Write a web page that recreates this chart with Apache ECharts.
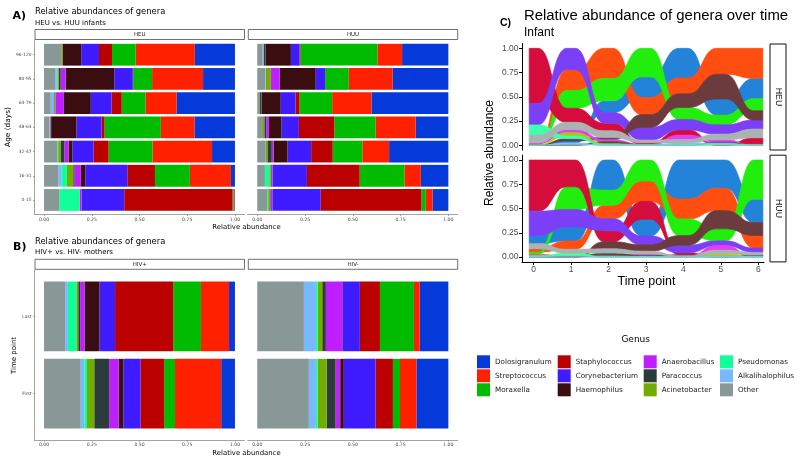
<!DOCTYPE html>
<html><head><meta charset="utf-8">
<script src="https://cdn.jsdelivr.net/npm/echarts@6/dist/echarts.min.js"></script>
<style>html,body{margin:0;padding:0;background:#fff}#c{width:800px;height:462px}</style>
</head><body><div id="c"></div>
<script>
// ---------- data ----------
const genera = ['Dolosigranulum','Streptococcus','Moraxella','Staphylococcus','Corynebacterium','Haemophilus','Anaerobacillus','Paracoccus','Acinetobacter','Pseudomonas','Alkalihalophilus','Other'];
const ageGroups = ['0-15','16-31','32-47','48-63','64-79','80-95','96-120'];
const timePoints = [0,1,2,3,4,5,6];
const motherTimes = ['First','Last'];
const xTicks = [0,0.25,0.5,0.75,1];
const yTicksC = [0,0.25,0.5,0.75,1];

// values in genera order
const HEU_0_15   = [0.003,0.005,0.005,0.567,0.223,0,0.010,0,0.002,0.105,0,0.080];
const HEU_16_31  = [0.021,0.215,0.183,0.145,0.220,0.023,0.033,0.007,0.033,0.028,0.017,0.075];
const HEU_32_47  = [0.120,0.312,0.230,0.079,0.110,0.021,0.021,0.021,0.012,0.004,0,0.070];
const HEU_48_63  = [0.212,0.176,0.295,0.016,0.131,0.133,0.003,0.002,0.002,0,0.002,0.028];
const HEU_64_79  = [0.305,0.164,0.124,0.054,0.108,0.141,0.045,0,0.007,0,0.017,0.035];
const HEU_80_95  = [0.167,0.267,0.099,0.002,0.097,0.255,0.026,0.010,0.007,0.003,0.009,0.058];
const HEU_96_120 = [0.210,0.310,0.124,0.068,0.093,0.096,0,0.003,0.006,0,0,0.090];

const HUU_0_15   = [0.082,0.036,0.023,0.527,0.253,0,0.010,0.002,0.010,0.005,0,0.052];
const HUU_16_31  = [0.144,0.086,0.234,0.276,0.180,0,0.005,0.005,0.007,0.023,0,0.040];
const HUU_32_47  = [0.310,0.140,0.155,0.113,0.124,0.073,0.009,0.023,0.009,0,0,0.044];
const HUU_48_63  = [0.171,0.210,0.216,0.185,0.091,0.066,0.014,0.010,0.007,0,0,0.030];
const HUU_64_79  = [0.402,0.206,0.171,0.021,0.077,0.100,0.001,0.010,0.002,0,0,0.010];
const HUU_80_95  = [0.291,0.230,0.124,0,0.049,0.188,0.047,0,0.026,0,0.003,0.042];
const HUU_96_120 = [0.242,0.129,0.403,0.005,0.045,0.133,0,0.010,0,0,0.005,0.028];

const HIVPOS_FIRST = [0.072,0.242,0.057,0.124,0.089,0.026,0.049,0.078,0.038,0.014,0.019,0.192];
const HIVPOS_LAST  = [0.031,0.147,0.145,0.305,0.082,0.078,0.023,0.010,0.010,0.044,0.014,0.111];
const HIVNEG_FIRST = [0.167,0.086,0.037,0.091,0.166,0.019,0.024,0.047,0.047,0.009,0.037,0.270];
const HIVNEG_LAST  = [0.150,0.030,0.178,0.105,0.089,0.003,0.086,0.019,0.024,0.009,0.063,0.244];

const heuRows = [HEU_0_15,HEU_16_31,HEU_32_47,HEU_48_63,HEU_64_79,HEU_80_95,HEU_96_120];
const huuRows = [HUU_0_15,HUU_16_31,HUU_32_47,HUU_48_63,HUU_64_79,HUU_80_95,HUU_96_120];
const hivPosRows = [HIVPOS_FIRST,HIVPOS_LAST];
const hivNegRows = [HIVNEG_FIRST,HIVNEG_LAST];

// ---------- styles ----------
const barColors  = ['#0539d9','#ff2000','#00bb00','#bb0000','#3f1cff','#3a0e10','#bf1fff','#2c3c3a','#73ac00','#11ff99','#77b8ff','#879896'];
const flowColors = ['#2283d9','#ff4e0f','#22ee0e','#d40d3c','#7b3ff7','#6b3b3d','#e23ef5','#45504f','#a8c80a','#3effad','#7fc3ff','#abb3b2'];
const FA = 'DejaVu Sans';
const FC = 'Liberation Sans';
const AX = '#8c8c8c';

const chart = echarts.init(document.getElementById('c'), null, {renderer:'canvas'});
const series = [];

function barRender(color){
  return function(params, api){
    const s = api.coord([api.value(0), api.value(2)]);
    const e = api.coord([api.value(1), api.value(2)]);
    const h = api.size([0, 0.9])[1];
    if (e[0] - s[0] <= 0) return null;
    return {type:'rect', shape:{x:s[0], y:s[1]-h/2, width:e[0]-s[0], height:h}, style:{fill:color}};
  };
}
function addBars(rows, gi){
  genera.forEach((g, gIdx) => {
    const data = rows.map((row, r) => {
      let start = 0;
      for (let k = gIdx + 1; k < row.length; k++) start += row[k];
      return [start, start + row[gIdx], r];
    });
    series.push({type:'custom', name:g, xAxisIndex:gi, yAxisIndex:gi, silent:true,
      itemStyle:{color:barColors[gIdx]}, dimensions:['start','end','row'], encode:{x:[0,1], y:2},
      data, renderItem:barRender(barColors[gIdx])});
  });
}

const W = 0.12;
function flowRender(color){
  return function(params, api){
    if (params.dataIndexInside !== 0) return null;
    const n = params.dataInsideLength;
    const tops = [], bots = [];
    for (let i = 0; i < n; i++){
      const t = api.value(0, i), b = api.value(1, i), tp = api.value(2, i);
      tops.push([api.coord([t - W, tp]), api.coord([t + W, tp])]);
      bots.push([api.coord([t - W, b]), api.coord([t + W, b])]);
    }
    const pts = [];
    function seg(p0, p3){
      const dx = (p3[0] - p0[0]) / 2;
      const p1 = [p0[0] + dx, p0[1]], p2 = [p3[0] - dx, p3[1]];
      for (let k = 1; k <= 20; k++){
        const u = k / 20, m = 1 - u;
        pts.push([
          m*m*m*p0[0] + 3*m*m*u*p1[0] + 3*m*u*u*p2[0] + u*u*u*p3[0],
          m*m*m*p0[1] + 3*m*m*u*p1[1] + 3*m*u*u*p2[1] + u*u*u*p3[1]
        ]);
      }
    }
    pts.push(tops[0][0], tops[0][1]);
    for (let i = 1; i < n; i++){ seg(tops[i-1][1], tops[i][0]); pts.push(tops[i][1]); }
    pts.push(bots[n-1][1], bots[n-1][0]);
    for (let i = n - 2; i >= 0; i--){ seg(bots[i+1][0], bots[i][1]); pts.push(bots[i][0]); }
    return {type:'polygon', shape:{points:pts}, style:{fill:color, stroke:color, lineWidth:0.7, blend:'multiply'}};
  };
}
function addFlows(rows, gi){
  const pos = rows.map(row => {
    const order = row.map((v, i) => i).sort((a, b) => (row[a] - row[b]) || (b - a));
    const p = [];
    let cum = 0;
    order.forEach(i => { p[i] = [cum, cum + row[i]]; cum += row[i]; });
    return p;
  });
  genera.forEach((g, gIdx) => {
    const data = rows.map((row, t) => [timePoints[t], pos[t][gIdx][0], pos[t][gIdx][1]]);
    series.push({type:'custom', name:g, xAxisIndex:gi, yAxisIndex:gi, silent:true,
      itemStyle:{color:flowColors[gIdx]}, dimensions:['t','lo','hi'], encode:{x:0, y:[1,2]},
      data, renderItem:flowRender(flowColors[gIdx])});
  });
}

addBars(heuRows, 0);
addBars(huuRows, 1);
addBars(hivPosRows, 2);
addBars(hivNegRows, 3);
addFlows(heuRows, 4);
addFlows(huuRows, 5);

// ---------- axes ----------
const HIDDEN = {show:false};
function line(color, width){ return {show:true, onZero:false, lineStyle:{color:color, width:width}}; }
function barX(gi){
  return {gridIndex:gi, type:'value', min:-0.05, max:1.05,
    axisLine:line(AX, 0.8),
    axisTick:{show:true, customValues:xTicks, length:1.5, lineStyle:{color:AX, width:0.8}},
    axisLabel:{customValues:xTicks, formatter:v => Number(v).toFixed(2), fontSize:4.6, fontFamily:FA, color:'#4d4d4d', margin:2.6},
    splitLine:HIDDEN, axisPointer:HIDDEN};
}
function barY(gi, cats, show){
  const vals = cats.map((c, i) => i);
  if (!show) {
    return {gridIndex:gi, type:'value', min:-0.6, max:cats.length - 0.4, show:false,
      axisLine:{show:false, onZero:false}, axisTick:HIDDEN, axisLabel:HIDDEN, splitLine:HIDDEN, axisPointer:HIDDEN};
  }
  return {gridIndex:gi, type:'value', min:-0.6, max:cats.length - 0.4,
    axisLine:line(AX, 0.8),
    axisTick:{show:true, customValues:vals, length:1.5, lineStyle:{color:AX, width:0.8}},
    axisLabel:{customValues:vals, formatter:v => cats[Math.round(v)], fontSize:4.4, fontFamily:FA, color:'#4d4d4d', margin:3},
    splitLine:HIDDEN, axisPointer:HIDDEN};
}
function flowY(gi){
  return {gridIndex:gi, type:'value', min:-0.05, max:1.05,
    axisLine:line('#000', 1),
    axisTick:{show:true, customValues:yTicksC, length:3, lineStyle:{color:'#000', width:1}},
    axisLabel:{customValues:yTicksC, formatter:v => Number(v).toFixed(2), fontSize:8.5, fontFamily:FC, color:'#4d4d4d', margin:3.5},
    splitLine:HIDDEN, axisPointer:HIDDEN};
}
function flowX(gi, show){
  if (!show) {
    return {gridIndex:gi, type:'value', min:-0.312, max:6.15, show:false,
      axisLine:{show:false, onZero:false}, axisTick:HIDDEN, axisLabel:HIDDEN, splitLine:HIDDEN, axisPointer:HIDDEN};
  }
  return {gridIndex:gi, type:'value', min:-0.312, max:6.15,
    axisLine:line('#000', 1),
    axisTick:{show:true, customValues:timePoints, length:3, lineStyle:{color:'#000', width:1}},
    axisLabel:{customValues:timePoints, formatter:v => String(Math.round(v)), fontSize:8.5, fontFamily:FC, color:'#4d4d4d', margin:3.5},
    splitLine:HIDDEN, axisPointer:HIDDEN};
}

const grids = [
  {left:34.5, top:40.2, width:210, height:174.3},
  {left:247.7, top:40.2, width:210.2, height:174.3},
  {left:34.5, top:270, width:210, height:170},
  {left:247.7, top:270, width:210.2, height:170},
  {left:522, top:43.5, width:242, height:106.6},
  {left:522, top:155.2, width:242, height:106.7}
];

// ---------- text & strips ----------
function T(text, x, y, size, o){
  o = o || {};
  return {type:'text', x:x, y:y, rotation:o.rot || 0, z:10, silent:true,
    style:{text:text, fontSize:size, fontFamily:o.ff || FA, fontWeight:o.fw || 'normal',
      fill:o.color || '#000', textAlign:o.align || 'left', textVerticalAlign:'middle'}};
}
function strip(x, y, w, h, label, size, vertical){
  const els = [{type:'rect', z:10, silent:true, shape:{x:x, y:y, width:w, height:h},
    style:{fill:'#fff', stroke:vertical ? '#111' : '#333', lineWidth:vertical ? 1 : 0.7}}];
  els.push(T(label, x + w/2, y + h/2, size, {align:'center', ff:vertical ? FC : FA, color:'#1a1a1a', rot:vertical ? -Math.PI/2 : 0}));
  return els;
}
const graphics = [].concat(
  [T('A)', 12.5, 16, 11, {fw:'bold'}),
   T('Relative abundances of genera', 35, 12.3, 8.4),
   T('HEU vs. HUU infants', 35, 22.7, 7),
   T('B)', 13, 247, 11, {fw:'bold'}),
   T('Relative abundances of genera', 35, 242, 8.4),
   T('HIV+ vs. HIV- mothers', 35, 252.3, 7),
   T('C)', 500, 23, 10.5, {fw:'bold', ff:FC}),
   T('Relative abundance of genera over time', 524, 15.5, 14.9, {ff:FC}),
   T('Infant', 524, 32.5, 12, {ff:FC}),
   T('Age (days)', 8, 127, 7.4, {align:'center', rot:Math.PI/2}),
   T('Relative abundance', 246.5, 227, 6.9, {align:'center'}),
   T('Time point', 14, 355.5, 7, {align:'center', rot:Math.PI/2}),
   T('Relative abundance', 246.5, 453.7, 6.9, {align:'center'}),
   T('Relative abundance', 490, 153, 12, {align:'center', ff:FC, rot:Math.PI/2}),
   T('Time point', 646.5, 282, 12.5, {align:'center', ff:FC}),
   T('Genus', 635.7, 340, 9, {align:'center'})],
  strip(35, 29.5, 209.5, 10, 'HEU', 5.5, false),
  strip(248.3, 29.5, 209.4, 10, 'HUU', 5.5, false),
  strip(35, 259.3, 209.5, 10, 'HIV+', 5.5, false),
  strip(248.3, 259.3, 209.4, 10, 'HIV-', 5.5, false),
  strip(770, 44, 16, 106, 'HEU', 8.8, true),
  strip(770, 155.2, 16, 106.7, 'HUU', 8.8, true)
);

function legendCol(names, left){
  return {data:names, orient:'vertical', left:left, top:355.3, padding:0, itemWidth:13, itemHeight:13, itemGap:1,
    icon:'rect', selectedMode:false, itemStyle:{borderWidth:0},
    textStyle:{fontSize:7.2, fontFamily:FA, color:'#1a1a1a', padding:[0,0,0,0]}};
}

chart.setOption({
  animation:false,
  backgroundColor:'#fff',
  tooltip:{show:false},
  grid:grids,
  xAxis:[barX(0), barX(1), barX(2), barX(3), flowX(4, false), flowX(5, true)],
  yAxis:[barY(0, ageGroups, true), barY(1, ageGroups, false), barY(2, motherTimes, true), barY(3, motherTimes, false), flowY(4), flowY(5)],
  legend:[
    legendCol(genera.slice(0,3), 477),
    legendCol(genera.slice(3,6), 557.7),
    legendCol(genera.slice(6,9), 643.7),
    legendCol(genera.slice(9,12), 720)
  ],
  graphic:graphics,
  series:series
});
</script></body></html>
